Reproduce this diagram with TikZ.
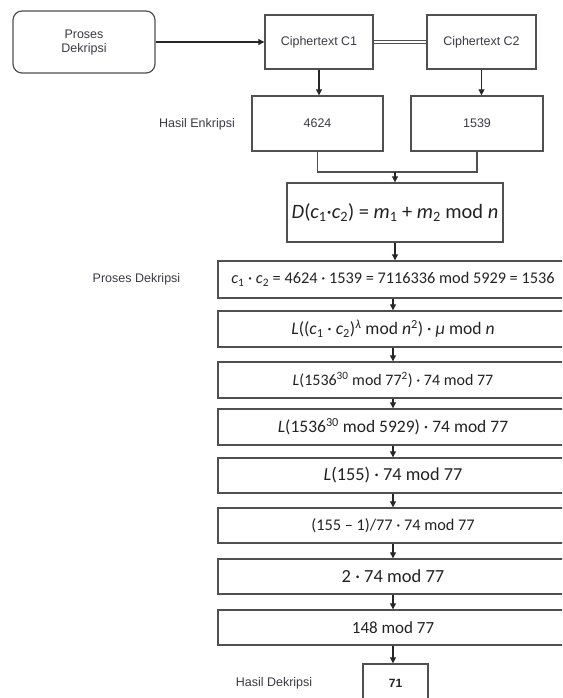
\documentclass[tikz,border=0pt]{standalone}
\usepackage{fontspec}
\setmainfont{Liberation Sans}
\newfontfamily\calib{Carlito}
\usetikzlibrary{arrows.meta}
\definecolor{boxline}{HTML}{505050}
\definecolor{labeltext}{HTML}{3A3A44}
\definecolor{mathtext}{HTML}{222222}
\tikzset{
  box/.style={draw=boxline, line width=1.4pt, inner sep=0pt, align=center, text=labeltext, font=\fontsize{12.5}{14}\selectfont},
  mbox/.style={draw=boxline, line width=1.4pt, inner sep=0pt, minimum width=350pt, minimum height=36pt, text=mathtext},
  lbl/.style={text=labeltext, font=\fontsize{12.5}{14}\selectfont, inner sep=0pt},
  arr/.style={draw=black!85, line width=1.1pt, -{Triangle[width=6pt,length=6pt]}},
  conn/.style={draw=boxline, line width=1.1pt}
}
\newcommand{\mv}[1]{\textit{#1}}
\newcommand{\msub}[1]{\textsubscript{#1}}
\newcommand{\msup}[1]{\textsuperscript{#1}}
\newcommand{\cs}[1]{\calib\fontsize{#1}{#1}\selectfont}
\begin{document}
\begin{tikzpicture}[x=1pt,y=-1pt]
\useasboundingbox (0,0) rectangle (562,698);
\clip (0,0) rectangle (562,698);
% top row
\node[box, rounded corners=9pt, line width=1.2pt, minimum width=142pt, minimum height=62pt] (proses) at (84,42) {Proses\\Dekripsi};
\node[box, minimum width=108pt, minimum height=54pt] (c1) at (319,42) {Ciphertext C1};
\node[box, minimum width=109pt, minimum height=54pt] (c2) at (481.5,42) {Ciphertext C2};
\node[box, minimum width=131pt, minimum height=55pt] (e1) at (317.5,123.5) {4624};
\node[box, minimum width=132pt, minimum height=55pt] (e2) at (477,123.5) {1539};
\node[lbl] (hen) at (197,124) {Hasil Enkripsi};
\node[box, text=mathtext, minimum width=216pt, minimum height=59pt] (d) at (395,212.5)
  {\cs{20.4}\mv{D}(\mv{c}\msub{1}·\mv{c}\msub{2}) = \mv{m}\msub{1} + \mv{m}\msub{2} mod \mv{n}};
% stacked steps
\node[lbl] (pdk) at (136.5,279) {Proses Dekripsi};
\node[mbox, minimum height=37pt] (s1) at (393,279.5)
  {\cs{16.3}\mv{c}\msub{1} · \mv{c}\msub{2} = 4624 · 1539 = 7116336 mod 5929 = 1536};
\node[mbox] (s2) at (393,329)
  {\cs{17.6}\mv{L}((\mv{c}\msub{1} · \mv{c}\msub{2})\msup{\mv{λ}} mod \mv{n}\msup{2}) · \mv{μ} mod \mv{n}};
\node[mbox] (s3) at (393,380)
  {\cs{16}\mv{L}(1536\msup{30} mod 77\msup{2}) · 74 mod 77};
\node[mbox] (s4) at (393,427)
  {\cs{17.5}\mv{L}(1536\msup{30} mod 5929) · 74 mod 77};
\node[mbox, minimum height=35pt] (s5) at (393,475.5)
  {\cs{18.3}\mv{L}(155) · 74 mod 77};
\node[mbox, minimum height=35pt] (s6) at (393,525.5)
  {\cs{16.3}(155 – 1)/77 · 74 mod 77};
\node[mbox, minimum height=35pt] (s7) at (393,576.5)
  {\cs{18.5}2 · 74 mod 77};
\node[mbox, minimum height=35pt] (s8) at (393,627.5)
  {\cs{17}148 mod 77};
\node[box, text=mathtext, minimum width=65pt, minimum height=38pt, font=\fontsize{12}{14}\selectfont\bfseries] (r) at (395.5,683) {71};
\node[lbl] (hdk) at (274,683) {Hasil Dekripsi};
% connectors
\draw[arr] (proses.east) -- (c1.west);
\draw[conn, double=white, double distance=2.2pt, line width=0.9pt] (c1.east) -- (c2.west);
\draw[arr] (c1.south) -- (c1.south |- e1.north);
\draw[arr] (c2.south) -- (c2.south |- e2.north);
\coordinate (j) at (395,172);
\draw[conn] (e1.south) |- (j) -| (e2.south);
\draw[arr] (j) -- (d.north);
\draw[arr] (d.south) -- (d.south |- s1.north);
\draw[arr] (s1.south) -- (s2.north);
\draw[arr] (s2.south) -- (s3.north);
\draw[arr] (s3.south) -- (s4.north);
\draw[arr] (s4.south) -- (s5.north);
\draw[arr] (s5.south) -- (s6.north);
\draw[arr] (s6.south) -- (s7.north);
\draw[arr] (s7.south) -- (s8.north);
\draw[arr] (s8.south) -- (s8.south |- r.north);
\end{tikzpicture}
\end{document}
